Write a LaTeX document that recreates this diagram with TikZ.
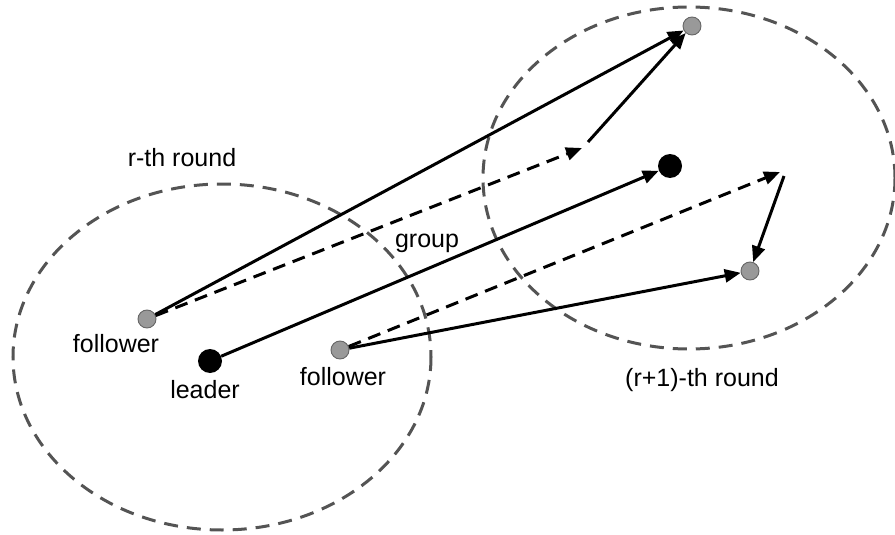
\documentclass[tikz,border=0pt]{standalone}
\usepackage{fontspec}
\setmainfont{Liberation Sans}
\usetikzlibrary{arrows.meta}
\begin{document}
\begin{tikzpicture}[x=1pt,y=-1pt,
  roundring/.style={draw=black!67,line width=3pt,dash pattern=on 14pt off 9pt},
  follower/.style={circle,draw=black!60,line width=0.9pt,fill=black!40,minimum size=18pt,inner sep=0pt},
  leaderdot/.style={circle,fill=black,minimum size=24pt,inner sep=0pt},
  move/.style={line width=3pt,-{Triangle[length=16pt,width=13pt]}},
  plan/.style={move,dash pattern=on 13pt off 8pt},
  lbl/.style={anchor=base,inner sep=0pt,font=\fontsize{25}{30}\selectfont}]
\useasboundingbox (0,0) rectangle (895,535);

% the two rounds
\draw[roundring] (222,357) ellipse [x radius=209, y radius=173];
\draw[roundring] (689,178) ellipse [x radius=206, y radius=171];

% group members in round r
\node[follower] (f1) at (147,319) {};
\node[leaderdot] (ld) at (210,361) {};
\node[follower] (f2) at (340,350) {};

% positions in round r+1
\node[follower] (g1) at (692,26) {};
\node[leaderdot] (lr) at (670,166) {};
\node[follower] (g2) at (750,271) {};

% turning points of the followers
\coordinate (t1) at (582,148);
\coordinate (s1) at (588,142);
\coordinate (t2) at (780,172);
\coordinate (s2) at (784,176);

% movements
\draw[move] (f1) -- (g1);
\draw[plan] (f1) -- (t1);
\draw[move] (s1) -- (g1);
\draw[move] (ld) -- (lr);
\draw[plan] (f2) -- (t2);
\draw[move] (s2) -- (g2);
\draw[move] (f2) -- (g2);

% labels
\node[lbl] (lr0) at (182,166) {r-th round};
\node[lbl] (lf1) at (116,352) {follower};
\node[lbl] (lld) at (205,398) {leader};
\node[lbl] (lf2) at (343,385) {follower};
\node[lbl] (lgr) at (427,247) {group};
\node[lbl] (lr1) at (702,386) {(r+1)-th round};
\end{tikzpicture}
\end{document}
